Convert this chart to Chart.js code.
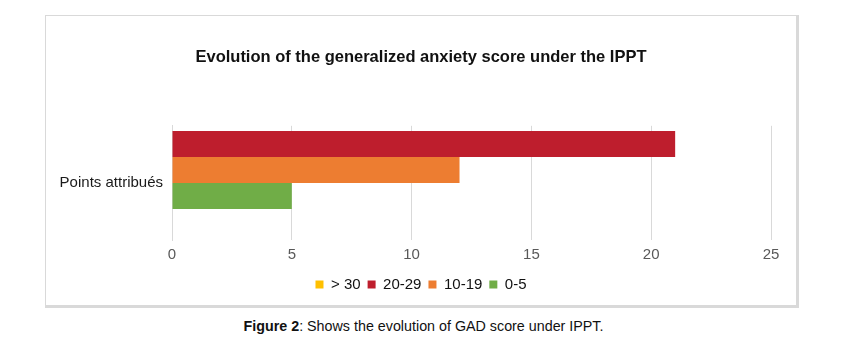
<!DOCTYPE html>
<html lang="en">

<head>
    <meta charset="UTF-8">
    <title>GAD score</title>
    <script src="https://cdn.jsdelivr.net/npm/chart.js@4.4.0/dist/chart.umd.min.js"></script>
    <style>
        body {
            margin: 0;
            background: #fff;
            font-family: "Liberation Sans", Arial, sans-serif;
        }

        #frame {
            position: absolute;
            left: 45px;
            top: 15px;
            width: 750px;
            height: 289px;
            border-top: 1px solid #d9d9d9;
            border-left: 1px solid #d9d9d9;
            border-right: 3px solid #d9d9d9;
            border-bottom: 3px solid #d9d9d9;
        }

        #frame canvas {
            display: block;
        }

        #caption {
            position: absolute;
            left: 0;
            width: 847px;
            top: 318px;
            text-align: center;
            font-size: 14.3px;
            color: #111;
        }
    </style>
</head>

<body>
    <div id="frame">
        <canvas id="myChart" width="750" height="289"></canvas>
    </div>
    <div id="caption"><b>Figure 2</b>: Shows the evolution of GAD score under IPPT.</div>

    <script>
        // data
        var categories = ["Points attribués"];
        var legendOrder = ["> 30", "20-29", "10-19", "0-5"];
        var barLabels = ["20-29", "10-19", "0-5", "> 30"];
        var barValues = [21, 12, 5, 0];
        var barColors = ["#BE1E2D", "#ED7D31", "#70AD47", "#FFC000"];
        var xTickValues = [0, 5, 10, 15, 20, 25];

        var datasets = [];
        for (var i = 0; i < barLabels.length; i++) {
            datasets.push({
                label: barLabels[i],
                data: [barValues[i]],
                backgroundColor: barColors[i],
                borderWidth: 0,
                barPercentage: 1,
                categoryPercentage: 0.91
            });
        }

        var ctx = document.getElementById("myChart").getContext("2d");
        var chart = new Chart(ctx, {
            type: "bar",
            data: {
                labels: categories,
                datasets: datasets
            },
            options: {
                indexAxis: "y",
                responsive: false,
                animation: false,
                layout: {
                    padding: { left: 0, right: 0, bottom: 3 }
                },
                scales: {
                    x: {
                        min: xTickValues[0],
                        max: xTickValues[xTickValues.length - 1],
                        afterBuildTicks: function (axis) {
                            axis.ticks = xTickValues.map(function (v) { return { value: v }; });
                        },
                        // keep the plot narrower than the frame on the right
                        afterFit: function (axis) { axis.paddingRight = 25; },
                        grid: { color: "#d9d9d9", drawTicks: false },
                        border: { display: false },
                        ticks: {
                            padding: 6,
                            color: "#595959",
                            font: { family: "Liberation Sans", size: 15 }
                        }
                    },
                    y: {
                        grid: { display: false, drawTicks: false },
                        border: { display: true, color: "#d9d9d9" },
                        afterFit: function (axis) { axis.width = 126; },
                        ticks: {
                            padding: 9,
                            color: "#1a1a1a",
                            font: { family: "Liberation Sans", size: 15 }
                        }
                    }
                },
                plugins: {
                    title: {
                        display: true,
                        text: "Evolution of the generalized anxiety score under the IPPT",
                        color: "#111",
                        font: { family: "Liberation Sans", size: 16.5, weight: "bold" },
                        padding: { top: 32, bottom: 58 }
                    },
                    legend: {
                        position: "bottom",
                        labels: {
                            boxWidth: 8,
                            boxHeight: 8,
                            padding: 7,
                            color: "#111",
                            font: { family: "Liberation Sans", size: 15 },
                            sort: function (a, b) {
                                return legendOrder.indexOf(a.text) - legendOrder.indexOf(b.text);
                            }
                        }
                    },
                    tooltip: { enabled: false }
                }
            }
        });
    </script>
</body>

</html>
